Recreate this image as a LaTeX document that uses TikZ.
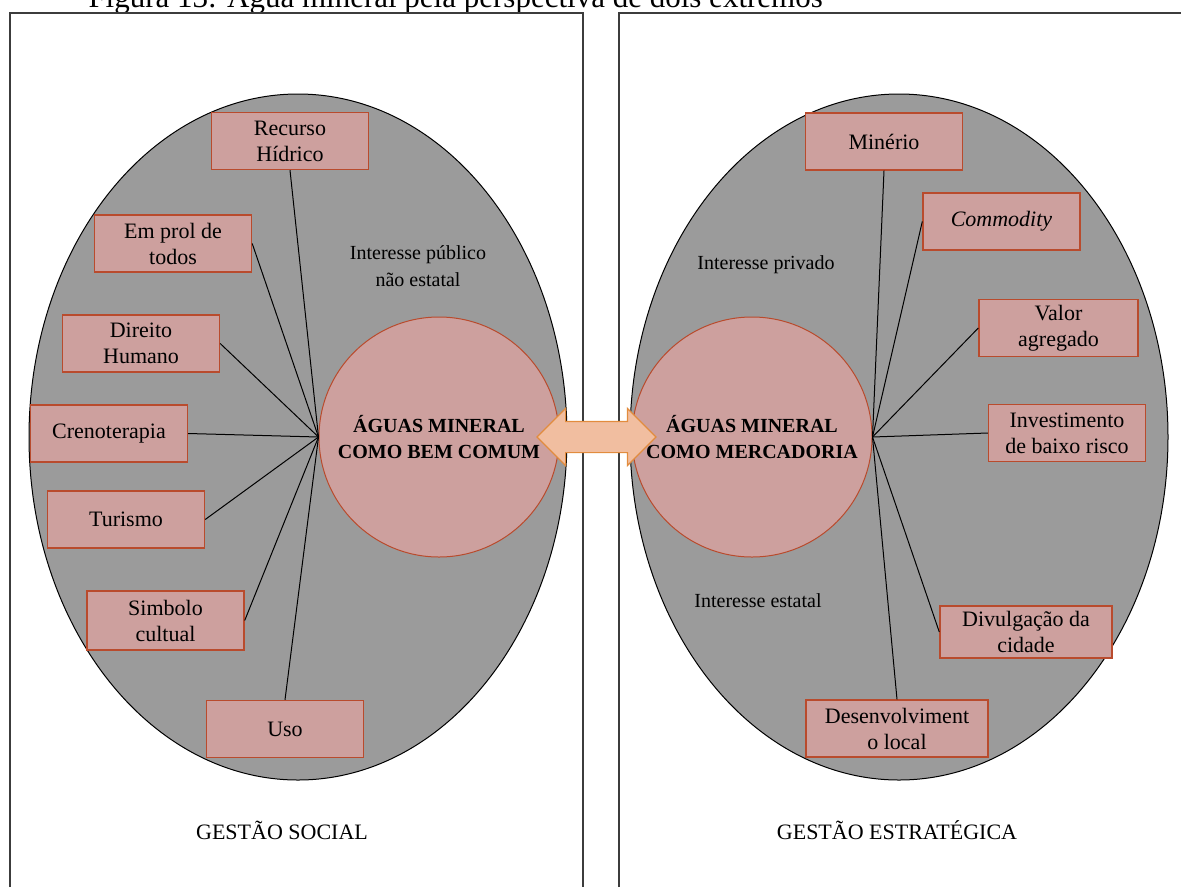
\documentclass[tikz,border=0pt]{standalone}
\usepackage{fontspec}
\setmainfont{Liberation Serif}
\usetikzlibrary{shapes.geometric,shapes.arrows}
\definecolor{oval_gray}{RGB}{155,155,155}
\definecolor{frame_gray}{RGB}{60,60,60}
\definecolor{node_rose}{RGB}{205,160,158}
\definecolor{edge_rose}{RGB}{185,75,45}
\definecolor{link_fill}{RGB}{241,190,160}
\definecolor{link_edge}{RGB}{226,140,62}

\begin{document}
\begin{tikzpicture}[x=1pt,y=-1pt,line width=1pt]
    \tikzstyle{oval}=[draw=black, ellipse, fill=oval_gray, minimum width=538pt, minimum height=686pt, inner sep=0pt]
    \tikzstyle{core}=[draw=edge_rose, circle, fill=node_rose, minimum size=240pt, inner sep=0pt, align=center, font=\fontsize{20}{26}\selectfont\bfseries]
    \tikzstyle{item}=[draw=edge_rose, line width=1.4pt, fill=node_rose, minimum width=157pt, minimum height=57pt, inner sep=0pt, align=center, font=\fontsize{22}{26}\selectfont]
    \tikzstyle{note}=[align=center, font=\fontsize{20}{27}\selectfont]
    \tikzstyle{side}=[font=\fontsize{22}{26}\selectfont]

    \useasboundingbox (0,0) rectangle (1181,887);

    % caption, cut by the page top
    \node[anchor=base west, inner sep=0pt, font=\fontsize{31}{36}\selectfont] (caption) at (88,7) {Figura 13: Água mineral pela perspectiva de dois extremos};

    % the two frames
    \draw[frame_gray, line width=1.4pt] (10,887) -- (10,13) -- (583,13) -- (583,887);
    \draw[frame_gray, line width=1.4pt] (619,887) -- (619,13) -- (1181,13);

    \node[oval] (lov) at (298,437) {};
    \node[oval] (rov) at (899,437) {};

    \node[note] (pub) at (418,266) {Interesse público\\não estatal};
    \node[note] (priv) at (766,265) {Interesse privado};
    \node[note] (est) at (758,601) {Interesse estatal};

    \node[core] (comum) at (439,437) {ÁGUAS MINERAL\\COMO BEM COMUM};
    \node[core] (merc) at (752,437) {ÁGUAS MINERAL\\COMO MERCADORIA};

    % left side
    \node[item] (rec) at (290,141) {Recurso\\Hídrico};
    \node[item] (prol) at (173,243.5) {Em prol de\\todos};
    \node[item] (dir) at (141,343.5) {Direito\\Humano};
    \node[item] (cren) at (109,433.5) {Crenoterapia};
    \node[item] (tur) at (126,519.5) {Turismo};
    \node[item, minimum height=59pt] (simb) at (165.5,620.5) {Simbolo\\cultual};
    \node[item] (uso) at (285,729) {Uso};

    % right side
    \node[item] (min) at (884,141.5) {Minério};
    \node[item] (com) at (1001.5,221.5) {\textit{Commodity}};
    \node[item, minimum width=159pt] (val) at (1058.5,328) {Valor\\agregado};
    \node[item] (inv) at (1067,433) {Investimento\\de baixo risco};
    \node[item, minimum width=172pt, minimum height=52pt] (div) at (1026,632) {Divulgação da\\cidade};
    \node[item, minimum width=182pt] (des) at (897,728.5) {Desenvolviment\\o local};

    \path[black]
     (rec.south) edge (comum.west)
     (prol.east) edge (comum.west)
     (dir.east)  edge (comum.west)
     (cren.east) edge (comum.west)
     (tur.east)  edge (comum.west)
     (simb.east) edge (comum.west)
     (uso.north) edge (comum.west)
     (min.south) edge (merc.east)
     (com.west)  edge (merc.east)
     (val.west)  edge (merc.east)
     (inv.west)  edge (merc.east)
     (div.west)  edge (merc.east)
     (des.north) edge (merc.east)
     ;

    \node[double arrow, draw=link_edge, fill=link_fill, line width=1.2pt, minimum height=119pt, double arrow head extend=13pt, inner xsep=0pt, inner ysep=15pt] (link) at (596.5,437) {};

    \node[side] (social) at (282,830) {GESTÃO SOCIAL};
    \node[side] (estrat) at (897,830) {GESTÃO ESTRATÉGICA};
  \end{tikzpicture}
\end{document}
